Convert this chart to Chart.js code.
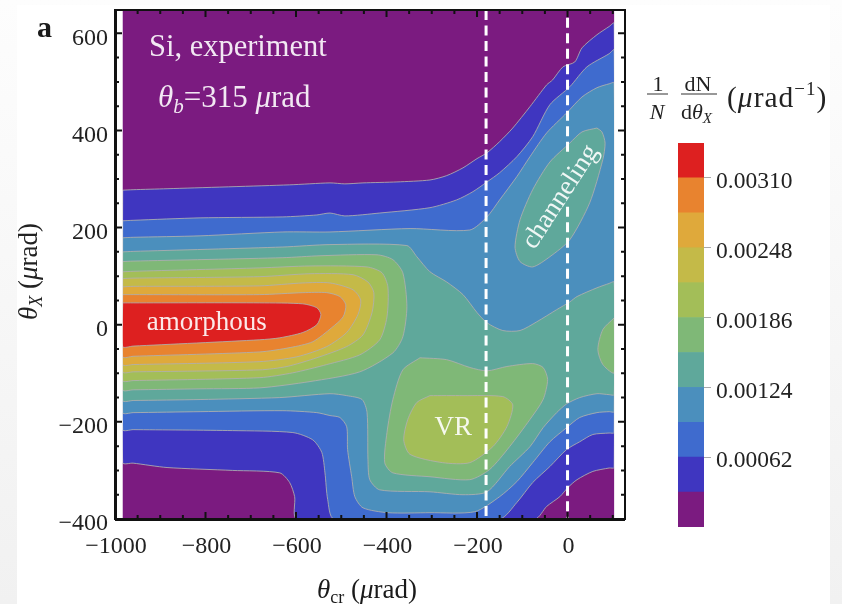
<!DOCTYPE html>
<html>
<head>
<meta charset="utf-8">
<title>Si, experiment</title>
<script src="https://cdn.jsdelivr.net/npm/chart.js@4/dist/chart.umd.min.js"></script>
<style>
    html, body { margin: 0; padding: 0; width: 842px; height: 604px; overflow: hidden; background: linear-gradient(#fdfdfd, #f1f1f1); }
    #panel { position: absolute; left: 17px; top: 5px; width: 813px; height: 599px; background: #fff; }
    canvas { position: absolute; filter: blur(0.6px); }
    #mapChart { left: 0; top: 0; }
    #barChart { left: 640px; top: 120px; }
</style>
</head>
<body>
<div id="panel"></div>
<canvas id="mapChart" width="842" height="604"></canvas>
<canvas id="barChart" width="202" height="430"></canvas>
<script>
// Axis ticks
const xMajorTicks = [-1000, -800, -600, -400, -200, 0];
const xMinorTicks = [-950, -900, -850, -750, -700, -650, -550, -500, -450, -350, -300, -250, -150, -100, -50, 50, 100];
const yMajorTicks = [-400, -200, 0, 200, 400, 600];
const yMinorTicks = [-350, -300, -250, -150, -100, -50, 50, 100, 150, 250, 300, 350, 450, 500, 550];

// Colour bar
const bandColors = ['#7b1b80', '#3f36c0', '#3f6bce', '#4b8fbd', '#5fa89b', '#7fb877', '#a3be58', '#c4ba48', '#dfa93b', '#e8832f', '#dd2020'];
const bandHeights = [0.00031, 0.00031, 0.00031, 0.00031, 0.00031, 0.00031, 0.00031, 0.00031, 0.00031, 0.00031, 0.00031];
const barTicks = [0.00062, 0.00124, 0.00186, 0.00248, 0.0031];

// Dashed guide lines
const guideA = [[-180, 648], [-180, -400]];
const guideB = [[0, 632], [0, 354]];
const guideC = [[0, 243], [0, -400]];

// White strips between the data and the frame
const stripLeft = [[-1000, 648], [-983, 648], [-983, -400], [-1000, -400]];
const stripRight = [[103, 648], [127, 648], [127, -400], [103, -400]];

// Contours, [theta_cr, theta_X], one list per closed region
const level0 = [[-983, 648], [103, 648], [103, -400], [-983, -400]];
const level1 = [[-983, 277], [-960, 278], [-885, 280], [-614, 288], [-525, 292], [-492, 290], [-452, 292], [-377, 294], [-304, 298], [-267, 307], [-231, 323], [-200, 342], [-178, 354], [-150, 377], [-121, 405], [-83, 449], [-46, 494], [-33, 504], [-10, 531], [16, 541], [32, 570], [65, 597], [92, 614], [103, 621],
    [103, -294], [92, -295], [56, -302], [21, -319], [1, -335], [-17, -354], [-46, -374], [-72, -400],
    [-598, -400], [-603, -354], [-614, -325], [-636, -305], [-740, -300], [-885, -294], [-960, -285], [-983, -284]];
const level2 = [[-983, 214], [-960, 215], [-812, 220], [-629, 222], [-554, 226], [-525, 230], [-492, 224], [-415, 230], [-304, 241], [-245, 257], [-209, 274], [-178, 294], [-150, 313], [-112, 346], [-77, 387], [-39, 453], [5, 490], [43, 531], [92, 558], [103, 566],
    [103, -222], [92, -223], [56, -226], [27, -241], [-2, -257], [-39, -292], [-77, -325], [-112, -366], [-150, -400],
    [-516, -400], [-530, -360], [-536, -305], [-543, -263], [-563, -237], [-607, -222], [-740, -218], [-960, -216], [-983, -216]];
const level3 = [[-983, 179], [-960, 180], [-812, 183], [-629, 191], [-525, 191], [-348, 198], [-216, 195], [-178, 222], [-150, 257], [-112, 305], [-83, 346], [-46, 395], [-2, 436], [32, 469], [65, 488], [92, 496], [103, 498],
    [103, -179], [92, -179], [65, -181], [27, -191], [-2, -212], [-39, -241], [-77, -284], [-112, -323], [-150, -354], [-205, -385], [-304, -387], [-397, -387], [-452, -377], [-470, -354], [-477, -313], [-486, -257], [-488, -210], [-503, -191], [-525, -187], [-554, -181], [-629, -177], [-812, -179], [-960, -181], [-983, -181]];
const level4 = [[-983, 150], [-960, 151], [-629, 160], [-525, 165], [-355, 163], [-333, 140], [-304, 109], [-267, 88], [-231, 62], [-200, 25], [-178, 4], [-143, -12], [-105, -12], [-68, 6], [-24, 31], [5, 47], [21, 58], [65, 76], [92, 85], [103, 88],
    [103, -144], [92, -144], [65, -142], [27, -150], [-2, -163], [-24, -181], [-54, -212], [-83, -251], [-128, -292], [-178, -344], [-231, -350], [-304, -344], [-415, -340], [-437, -319], [-441, -278], [-443, -181], [-454, -154], [-488, -146], [-525, -142], [-636, -150], [-812, -154], [-960, -156], [-983, -156]];
const level4Channeling = [[65, 405], [32, 397], [5, 374], [-39, 335], [-77, 278], [-105, 216], [-116, 160], [-105, 130], [-77, 119], [-39, 140], [5, 175], [49, 251], [78, 340], [83, 374], [76, 397]];
const level5 = [[-983, 130], [-960, 131], [-629, 138], [-547, 142], [-421, 144], [-386, 134], [-364, 107], [-355, 37], [-364, -25], [-386, -58], [-459, -97], [-569, -117], [-680, -130], [-812, -132], [-960, -134], [-983, -134]];
const level5VR = [[-326, -68], [-267, -72], [-216, -88], [-178, -95], [-134, -86], [-77, -80], [-54, -88], [-44, -113], [-54, -154], [-83, -195], [-128, -251], [-172, -298], [-216, -319], [-304, -313], [-386, -305], [-404, -284], [-399, -222], [-386, -154], [-364, -93]];
const level5Edge = [[103, 14], [78, -10], [67, -51], [78, -82], [103, -99]];
const level6 = [[-983, 109], [-960, 110], [-680, 117], [-569, 121], [-443, 119], [-410, 107], [-397, 78], [-399, 16], [-415, -31], [-459, -62], [-532, -82], [-607, -99], [-680, -109], [-960, -115], [-983, -115]];
const level6VR = [[-304, -146], [-231, -146], [-143, -148], [-121, -165], [-134, -210], [-165, -251], [-216, -284], [-276, -284], [-348, -267], [-362, -237], [-353, -195], [-333, -160]];
const level7 = [[-983, 95], [-960, 96], [-680, 99], [-569, 105], [-474, 103], [-441, 88], [-428, 66], [-432, 25], [-452, -21], [-488, -45], [-554, -68], [-620, -86], [-680, -93], [-960, -97], [-983, -97]];
const level8 = [[-983, 78], [-960, 79], [-680, 80], [-585, 86], [-525, 86], [-474, 72], [-457, 51], [-463, 21], [-488, -16], [-532, -45], [-598, -66], [-680, -76], [-960, -82], [-983, -82]];
const level9 = [[-983, 62], [-960, 62], [-680, 62], [-585, 66], [-532, 66], [-503, 58], [-490, 41], [-496, 16], [-521, -6], [-563, -35], [-613, -47], [-680, -56], [-960, -65], [-983, -66]];
const level10 = [[-983, 45], [-960, 45], [-680, 45], [-585, 43], [-554, 35], [-545, 21], [-554, 0], [-585, -16], [-636, -27], [-680, -31], [-960, -44], [-983, -45]];

const serif = '"Liberation Serif", "Times New Roman", serif';
const edgeColor = 'rgba(175,175,175,0.85)';

// painted in this order, later regions sit on top
const regions = [
    [level0, 0], [level1, 1], [level2, 2], [level3, 3], [level4, 4], [level4Channeling, 4],
    [level5, 5], [level5VR, 5], [level5Edge, 5], [level6, 6], [level6VR, 6],
    [level7, 7], [level8, 8], [level9, 9], [level10, 10]
];

const regionSets = regions.map(function (r, i) {
    return {
        data: r[0].concat([r[0][0]]),
        showLine: true,
        fill: 'shape',
        tension: i === 0 ? 0 : 0.25,
        backgroundColor: bandColors[r[1]],
        borderColor: i === 0 ? bandColors[0] : edgeColor,
        borderWidth: 1,
        pointRadius: 0,
        order: 100 - i
    };
});

const stripSets = [stripLeft, stripRight].map(function (s) {
    return {
        data: s.concat([s[0]]),
        showLine: true,
        fill: 'shape',
        backgroundColor: '#ffffff',
        borderWidth: 0,
        pointRadius: 0,
        order: 2
    };
});

const guideSets = [guideA, guideB, guideC].map(function (g) {
    return {
        data: g,
        showLine: true,
        fill: false,
        borderColor: '#ffffff',
        borderWidth: 3,
        borderDash: [10, 5.5],
        pointRadius: 0,
        order: 1
    };
});

// writes pieces of text one after the other, each with its own font and shift
function richText(ctx, pieces, x, y) {
    pieces.forEach(function (p) {
        ctx.font = p.font;
        ctx.fillText(p.text, x, y + (p.dy || 0));
        x += ctx.measureText(p.text).width;
    });
}

const framePlugin = {
    id: 'frame',
    afterDatasetsDraw: function (chart) {
        const ctx = chart.ctx;
        const a = chart.chartArea;
        const sx = chart.scales.x;
        const sy = chart.scales.y;

        ctx.save();
        ctx.strokeStyle = '#111';
        ctx.lineWidth = 2;
        ctx.strokeRect(a.left, a.top, a.right - a.left, a.bottom - a.top);
        ctx.fillStyle = '#111';
        ctx.fillRect(a.left - 1, a.top, 3, a.bottom - a.top);
        ctx.fillRect(a.left, a.bottom - 1, a.right - a.left, 3);

        function xTick(v, len) {
            const p = sx.getPixelForValue(v);
            ctx.beginPath();
            ctx.moveTo(p, a.bottom);
            ctx.lineTo(p, a.bottom - len);
            ctx.moveTo(p, a.top);
            ctx.lineTo(p, a.top + len);
            ctx.stroke();
        }
        function yTick(v, len) {
            const p = sy.getPixelForValue(v);
            ctx.beginPath();
            ctx.moveTo(a.left, p);
            ctx.lineTo(a.left + len, p);
            ctx.moveTo(a.right, p);
            ctx.lineTo(a.right - len, p);
            ctx.stroke();
        }
        xMajorTicks.forEach(function (v) { xTick(v, 7); });
        xMinorTicks.forEach(function (v) { xTick(v, 4); });
        yMajorTicks.forEach(function (v) { yTick(v, 7); });
        yMinorTicks.forEach(function (v) { yTick(v, 4); });
        ctx.restore();
    }
};

const labelPlugin = {
    id: 'labels',
    afterDraw: function (chart) {
        const ctx = chart.ctx;
        const sx = chart.scales.x;
        const sy = chart.scales.y;
        const white = 'rgba(255,255,255,0.9)';

        ctx.save();
        ctx.textBaseline = 'alphabetic';
        ctx.fillStyle = white;
        ctx.font = '30.5px ' + serif;
        ctx.fillText('Si, experiment', sx.getPixelForValue(-925), sy.getPixelForValue(553));
        richText(ctx, [
            { text: 'θ', font: 'italic 31px ' + serif },
            { text: 'b', font: 'italic 21px ' + serif, dy: 6 },
            { text: '=315 ', font: '31px ' + serif },
            { text: 'μ', font: 'italic 31px ' + serif },
            { text: 'rad', font: '31px ' + serif }
        ], sx.getPixelForValue(-905), sy.getPixelForValue(449));

        ctx.font = '27px ' + serif;
        ctx.fillText('amorphous', sx.getPixelForValue(-930), sy.getPixelForValue(-10));
        ctx.fillText('VR', sx.getPixelForValue(-294), sy.getPixelForValue(-228));

        ctx.save();
        ctx.translate(sx.getPixelForValue(-15), sy.getPixelForValue(263));
        ctx.rotate(-57 * Math.PI / 180);
        ctx.textAlign = 'center';
        ctx.textBaseline = 'middle';
        ctx.font = '27px ' + serif;
        ctx.fillText('channeling', 0, 0);
        ctx.restore();

        ctx.fillStyle = '#1a1a1a';
        ctx.font = 'bold 30px ' + serif;
        ctx.fillText('a', 37, 37);

        richText(ctx, [
            { text: 'θ', font: 'italic 27px ' + serif },
            { text: 'cr', font: '18px ' + serif, dy: 5 },
            { text: ' (', font: '27px ' + serif },
            { text: 'μ', font: 'italic 27px ' + serif },
            { text: 'rad)', font: '27px ' + serif }
        ], 317, 598);

        // Colour bar heading
        ctx.fillStyle = '#222';
        ctx.strokeStyle = '#333';
        ctx.lineWidth = 1.2;
        ctx.textAlign = 'center';
        ctx.font = '22px ' + serif;
        ctx.fillText('1', 658, 91);
        ctx.fillText('dN', 698, 91);
        ctx.font = 'italic 22px ' + serif;
        ctx.fillText('N', 657, 119);
        ctx.beginPath();
        ctx.moveTo(647, 94);
        ctx.lineTo(668, 94);
        ctx.moveTo(681, 94);
        ctx.lineTo(717, 94);
        ctx.stroke();
        ctx.textAlign = 'left';
        richText(ctx, [
            { text: 'd', font: '22px ' + serif },
            { text: 'θ', font: 'italic 22px ' + serif },
            { text: 'X', font: 'italic 15px ' + serif, dy: 4 }
        ], 681, 119);
        ctx.letterSpacing = '1px';
        richText(ctx, [
            { text: '(', font: '29.5px ' + serif },
            { text: 'μ', font: 'italic 29.5px ' + serif },
            { text: 'rad', font: '29.5px ' + serif },
            { text: '−1', font: '19px ' + serif, dy: -12 },
            { text: ')', font: '29.5px ' + serif }
        ], 727, 107);
        ctx.letterSpacing = '0px';

        ctx.translate(37, 320);
        ctx.rotate(-Math.PI / 2);
        richText(ctx, [
            { text: 'θ', font: 'italic 27px ' + serif },
            { text: 'X', font: 'italic 18px ' + serif, dy: 5 },
            { text: ' (', font: '27px ' + serif },
            { text: 'μ', font: 'italic 27px ' + serif },
            { text: 'rad)', font: '27px ' + serif }
        ], 0, 0);
        ctx.restore();
    }
};

new Chart(document.getElementById('mapChart').getContext('2d'), {
    type: 'scatter',
    data: { datasets: regionSets.concat(stripSets, guideSets) },
    options: {
        responsive: false,
        animation: false,
        layout: { padding: { top: 10, right: 217, left: 0, bottom: 0 } },
        plugins: { legend: { display: false }, tooltip: { enabled: false } },
        scales: {
            x: {
                type: 'linear',
                min: -1000,
                max: 127,
                grid: { display: false, drawTicks: false },
                border: { display: false },
                afterBuildTicks: function (scale) {
                    scale.ticks = xMajorTicks.map(function (v) { return { value: v }; });
                },
                afterFit: function (scale) {
                    scale.height = 85;
                    scale.paddingLeft = 0;
                    scale.paddingRight = 0;
                },
                ticks: {
                    padding: 13,
                    labelOffset: 1,
                    maxRotation: 0,
                    autoSkip: false,
                    color: '#222',
                    font: { family: serif, size: 24 },
                    callback: function (v) { return String(v).replace('-', '−'); }
                }
            },
            y: {
                type: 'linear',
                min: -400,
                max: 648,
                grid: { display: false, drawTicks: false },
                border: { display: false },
                afterBuildTicks: function (scale) {
                    scale.ticks = yMajorTicks.map(function (v) { return { value: v }; });
                },
                afterFit: function (scale) {
                    scale.width = 115;
                    scale.paddingTop = 0;
                    scale.paddingBottom = 0;
                },
                ticks: {
                    padding: 7,
                    labelOffset: 5,
                    autoSkip: false,
                    color: '#222',
                    font: { family: serif, size: 24 },
                    callback: function (v) { return String(v).replace('-', '−'); }
                }
            }
        }
    },
    plugins: [framePlugin, labelPlugin]
});

// Colour bar
new Chart(document.getElementById('barChart').getContext('2d'), {
    type: 'bar',
    data: {
        labels: ['level'],
        datasets: bandHeights.map(function (h, i) {
            return {
                data: [h],
                backgroundColor: bandColors[i],
                barPercentage: 1,
                categoryPercentage: 1,
                stack: 'bands'
            };
        })
    },
    options: {
        responsive: false,
        animation: false,
        layout: { padding: { top: 23, bottom: 23, left: 38, right: 0 } },
        plugins: { legend: { display: false }, tooltip: { enabled: false } },
        scales: {
            x: { display: false, stacked: true },
            y: {
                position: 'right',
                stacked: true,
                min: 0,
                max: 0.00341,
                border: { display: false },
                grid: { drawOnChartArea: false, tickLength: 7, tickColor: '#aaa' },
                afterBuildTicks: function (scale) {
                    scale.ticks = barTicks.map(function (v) { return { value: v }; });
                },
                afterFit: function (scale) {
                    scale.width = 138;
                    scale.paddingTop = 0;
                    scale.paddingBottom = 0;
                },
                ticks: {
                    padding: 5,
                    labelOffset: 4,
                    autoSkip: false,
                    color: '#222',
                    font: { family: serif, size: 23.5 },
                    callback: function (v) { return v.toFixed(5); }
                }
            }
        }
    }
});
</script>
</body>
</html>
